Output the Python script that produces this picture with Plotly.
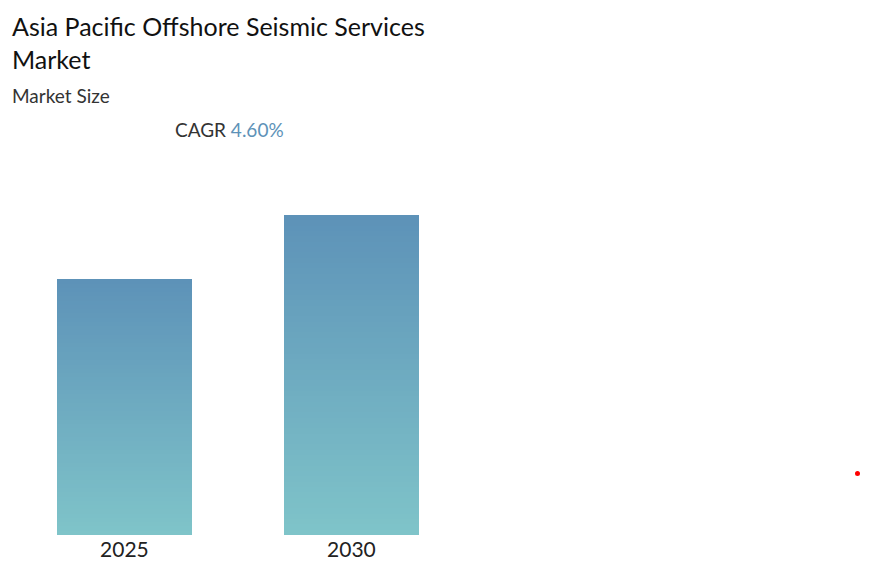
import plotly.graph_objects as go

years = ["2025", "2030"]
values = [1.0, 1.2516]
cagr_label = "4.60%"

N = 60
bottom = (127, 196, 201)
top = (93, 146, 184)

def col(t):
    c = [round(bottom[i] + (top[i] - bottom[i]) * t) for i in range(3)]
    return f"rgb({c[0]},{c[1]},{c[2]})"

fig = go.Figure()
for k in range(N):
    fig.add_trace(go.Bar(
        x=[0, 1], y=[v / N for v in values],
        marker=dict(color=[col((k + 0.5) / N)] * 2, line=dict(width=0)),
        width=0.595, hoverinfo="skip", showlegend=False))

fig.update_layout(
    barmode="stack", bargap=0,
    width=871, height=579,
    margin=dict(l=2, r=18, t=169, b=52),
    plot_bgcolor="white", paper_bgcolor="white",
    font=dict(family="Lato", color="#222"),
    xaxis=dict(range=[-0.504, 3.245], tickvals=[0, 1], ticktext=years,
               showgrid=False, zeroline=False, showline=False,
               tickfont=dict(size=21, color="#222")),
    yaxis=dict(range=[0, 1.4], visible=False),
    annotations=[
        dict(text="Asia Pacific Offshore Seismic Services<br>Market", x=0.0, y=1.468,
             xref="paper", yref="paper", xanchor="left", yanchor="top", showarrow=False,
             align="left", font=dict(size=25, color="#111")),
        dict(text="Market Size", x=0.0, y=1.265, xref="paper", yref="paper",
             xanchor="left", yanchor="top", showarrow=False, font=dict(size=19, color="#333")),
        dict(text=f"CAGR <span style='color:#5d92b8'>{cagr_label}</span>", x=0.192, y=1.17,
             xref="paper", yref="paper", xanchor="left", yanchor="top", showarrow=False,
             font=dict(size=19, color="#333")),
    ],
    shapes=[dict(type="circle", xref="paper", yref="paper",
                 x0=(855 - 10) / 851, x1=(860 - 10) / 851,
                 y0=(535 - 476) / 358, y1=(535 - 471) / 358,
                 fillcolor="red", line=dict(width=0))],
)
fig.write_html("out.html")
